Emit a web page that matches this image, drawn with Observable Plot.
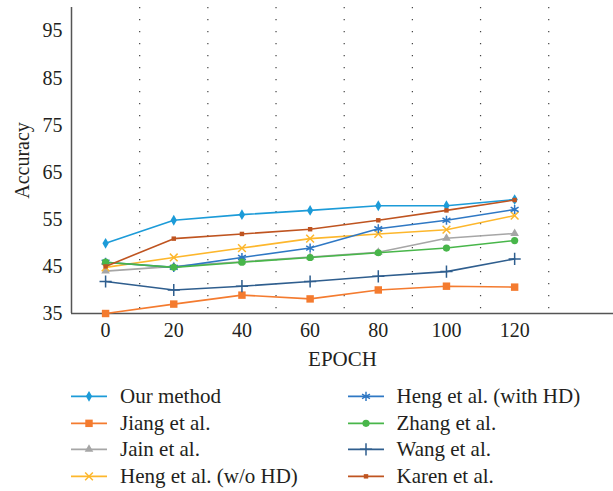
<!DOCTYPE html>
<html><head><meta charset="utf-8">
<script src="https://cdn.jsdelivr.net/npm/d3@7"></script>
<script src="https://cdn.jsdelivr.net/npm/@observablehq/plot@0.6"></script>
<style>
body{margin:0;background:#fff;font-family:"Liberation Serif","Times New Roman",serif;color:#231f20;}
#chart{width:613px;}
#legend{display:grid;grid-template-columns:276.5px 266px;grid-auto-flow:column;grid-template-rows:repeat(4,26.7px);margin:13px 0 0 71px;font-size:21px;}
.item{display:flex;align-items:center;height:26.7px;line-height:26.7px;white-space:nowrap;}
.item svg{width:36px;height:26.7px;margin-right:13px;flex:none;overflow:visible}
</style></head><body><div id="chart"></div><div id="legend"></div><script>
const epochs = [0, 20, 40, 60, 80, 100, 120];
const seriesNames = ["Our method", "Jiang et al.", "Jain et al.", "Heng et al. (w/o HD)", "Heng et al. (with HD)", "Zhang et al.", "Wang et al.", "Karen et al."];
const ourMethod = [49.9, 54.8, 56, 56.9, 57.9, 57.9, 59.2];
const jiang = [35, 37, 38.9, 38.1, 40, 40.8, 40.6];
const jain = [44, 45, 46, 47, 48, 51, 52];
const hengWo = [44.8, 46.9, 48.9, 50.9, 51.9, 52.8, 55.8];
const hengHD = [45.9, 44.8, 46.9, 48.9, 53, 54.8, 57.1];
const zhang = [45.9, 44.8, 45.9, 46.9, 47.9, 48.9, 50.5];
const wang = [41.8, 40, 40.8, 41.8, 42.9, 43.9, 46.6];
const karen = [45, 50.9, 51.9, 52.9, 54.8, 56.9, 59.1];
const seriesValues = [ourMethod, jiang, jain, hengWo, hengHD, zhang, wang, karen];
const colors = ["#1c9bd8", "#f47b2f", "#a6a6a6", "#fdb72c", "#2f78c4", "#48b64a", "#2f5e8e", "#bf5420"];
const symbols = ["diamond", "square", "triangle", "times", "asterisk", "circle", "plus", "square"];
const radii = [3.3, 4.2, 3.2, 3.6, 4.3, 3.6, 4.0, 2.5];
const strokeSymbol = [false, false, false, true, true, false, true, false];
const xTicks = [0, 20, 40, 60, 80, 100, 120];
const yTicks = [35, 45, 55, 65, 75, 85, 95];
const gridX = [10, 30, 50, 70, 90, 110, 130];

const rows = seriesNames.map((name, i) => epochs.map((e, j) => ({series: name, epoch: e, value: seriesValues[i][j]})));

const marks = [
  Plot.ruleX(gridX, {stroke: "#444", strokeWidth: 1.2, strokeDasharray: "1.2 10.8"}),
  Plot.ruleX([-10], {stroke: "#555", strokeWidth: 1.5}),
  Plot.ruleY([35], {stroke: "#555", strokeWidth: 1.5}),
  Plot.axisX({ticks: xTicks, tickSize: 0, tickPadding: 9, fontSize: 20, label: "EPOCH", labelAnchor: "center", labelArrow: "none", labelOffset: 52}),
  Plot.axisY({ticks: yTicks, tickSize: 0, tickPadding: 9, fontSize: 20, label: "Accuracy", labelAnchor: "center", labelArrow: "none", labelOffset: 57})
];
rows.forEach((data, i) => {
  marks.push(Plot.line(data, {x: "epoch", y: "value", stroke: colors[i], strokeWidth: 1.6}));
  if (strokeSymbol[i]) marks.push(Plot.dot(data, {x: "epoch", y: "value", symbol: () => symbols[i], r: radii[i], stroke: colors[i], strokeWidth: 1.5}));
  else marks.push(Plot.dot(data, {x: "epoch", y: "value", symbol: () => symbols[i], r: radii[i], fill: colors[i], stroke: "none"}));
});

const chart = Plot.plot({
  width: 613, height: 370,
  marginLeft: 71, marginRight: 0, marginTop: 7, marginBottom: 57,
  style: {fontFamily: "'Liberation Serif', 'Times New Roman', serif", fontSize: "20px", color: "#231f20", background: "#fff", overflow: "visible"},
  x: {domain: [-10, 149]},
  y: {domain: [35, 100]},
  symbol: {type: "identity"},
  marks
});
chart.querySelectorAll("g[aria-label='x-axis label'] text").forEach(t => t.setAttribute("font-size", 21));
document.getElementById("chart").append(chart);

const d3sym = {diamond: d3.symbolDiamond, square: d3.symbolSquare, triangle: d3.symbolTriangle, times: d3.symbolTimes, asterisk: d3.symbolAsterisk, circle: d3.symbolCircle, plus: d3.symbolPlus};
const legend = d3.select("#legend");
seriesNames.forEach((name, i) => {
  const item = legend.append("div").attr("class", "item");
  const svg = item.append("svg").attr("viewBox", "0 0 36 26.7");
  svg.append("line").attr("x1", 0).attr("x2", 36).attr("y1", 13.35).attr("y2", 13.35).attr("stroke", colors[i]).attr("stroke-width", 1.6);
  const p = svg.append("path").attr("transform", "translate(18,13.35)")
    .attr("d", d3.symbol(d3sym[symbols[i]], radii[i] * radii[i] * Math.PI)());
  if (strokeSymbol[i]) p.attr("fill", "none").attr("stroke", colors[i]).attr("stroke-width", 1.5);
  else p.attr("fill", colors[i]);
  item.append("span").text(name);
});
</script></body></html>
